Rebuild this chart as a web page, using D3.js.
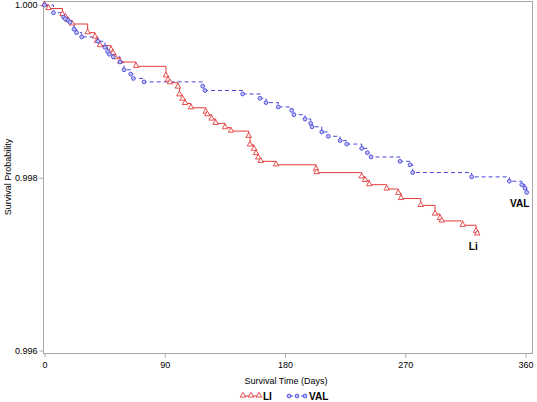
<!DOCTYPE html>
<html>
<head>
<meta charset="utf-8">
<script src="https://cdn.jsdelivr.net/npm/d3@7"></script>
<style>
  html, body { margin: 0; padding: 0; background: #fff; }
  svg { display: block; font-family: "Liberation Sans", Arial, sans-serif; }
</style>
</head>
<body>
<svg id="chart" width="537" height="402"></svg>
<script>
// ---- data ----
const liDays = [0, 3, 13.5, 15.7, 17.6, 20.6, 32.3, 37.8, 39.3, 41.5, 49.8, 51.3, 53.0, 56.7, 68.5, 90.9, 92.4, 93.9, 99.9, 101.0, 103.3, 105.2, 109.6, 120.7, 121.9, 125.1, 128.1, 135.1, 139.6, 152.8, 153.8, 156.8, 158.3, 160.0, 161.8, 173.3, 203.2, 203.7, 237.4, 239.9, 243.1, 256.1, 264.8, 266.8, 281.6, 292.3, 296.0, 297.3, 313.0, 323.0, 323.9];
const liSurv = [1, 0.99996, 0.99989, 0.99986, 0.99982, 0.99978, 0.99968, 0.99963, 0.99958, 0.99953, 0.99948, 0.99944, 0.99939, 0.99934, 0.99929, 0.99918, 0.99913, 0.99910, 0.99905, 0.99896, 0.99891, 0.99886, 0.99881, 0.99876, 0.99873, 0.99868, 0.99863, 0.99858, 0.99854, 0.99848, 0.99838, 0.99833, 0.99828, 0.99823, 0.99819, 0.99815, 0.99810, 0.99806, 0.99801, 0.99797, 0.99792, 0.99787, 0.99782, 0.99776, 0.99768, 0.99758, 0.99753, 0.99750, 0.99745, 0.99738, 0.99735];
const valDays = [0, 6.7, 14.2, 15.6, 17.8, 19.1, 22.1, 24.0, 27.8, 40.0, 45.3, 47.3, 48.5, 51.5, 56.5, 59.5, 64.5, 66.5, 74.5, 118.4, 120.1, 148.3, 161.3, 165.8, 175.0, 185.0, 186.7, 195.0, 199.2, 200.2, 207.5, 212.4, 221.2, 226.2, 237.4, 241.6, 244.4, 266.1, 273.6, 275.6, 319.7, 347.9, 357.2, 359.6, 360.9];
const valSurv = [1, 0.99991, 0.99986, 0.99984, 0.99982, 0.99980, 0.99972, 0.99968, 0.99963, 0.99958, 0.99951, 0.99946, 0.99943, 0.99940, 0.99934, 0.99925, 0.99920, 0.99915, 0.99911, 0.99906, 0.99901, 0.99897, 0.99892, 0.99887, 0.99882, 0.99878, 0.99873, 0.99868, 0.99863, 0.99859, 0.99853, 0.99848, 0.99843, 0.99839, 0.99834, 0.99829, 0.99824, 0.99819, 0.99815, 0.99806, 0.99801, 0.99796, 0.99792, 0.99788, 0.99783];
const xTicks = [0, 90, 180, 270, 360];
const yTicks = [0.996, 0.998, 1.000];
const seriesNames = ["LI", "VAL"];
const endLabels = ["Li", "VAL"];
const xTitle = "Survival Time (Days)";
const yTitle = "Survival Probability";

// ---- layout ----
const svg = d3.select("#chart");
const frame = { left: 43, right: 532, top: 1, bottom: 353 };
const x = d3.scaleLinear().domain([0, 360]).range([44.5, 525.5]);
const y = d3.scaleLinear().domain([0.996, 1.000]).range([350.5, 5]);
const redC = "#e23b3b", blueC = "#4646dc", axisC = "#a8a8a8", blueFill = "#c4c4f4";

// frame
svg.append("rect")
  .attr("x", frame.left + 0.5).attr("y", frame.top + 0.5)
  .attr("width", frame.right - frame.left).attr("height", frame.bottom - frame.top)
  .attr("fill", "none").attr("stroke", axisC).attr("stroke-width", 1);

// axes
const yAxis = svg.append("g").attr("transform", `translate(${frame.left + 0.5},0)`)
  .call(d3.axisLeft(y).tickValues(yTicks).tickFormat(d3.format(".3f")).tickSize(4).tickPadding(2));
const xAxis = svg.append("g").attr("transform", `translate(0,${frame.bottom + 0.5})`)
  .call(d3.axisBottom(x).tickValues(xTicks).tickFormat(d3.format("d")).tickSize(4).tickPadding(4));
[yAxis, xAxis].forEach(g => {
  g.select(".domain").remove();
  g.selectAll(".tick line").attr("stroke", axisC);
  g.selectAll(".tick text").attr("fill", "#000").style("font-size", "9px")
    .style("font-family", '"Liberation Sans", Arial, sans-serif');
});

// titles
svg.append("text").attr("transform", "translate(8,177) rotate(-90)")
  .attr("text-anchor", "middle").attr("dominant-baseline", "central")
  .style("font-size", "9px").text(yTitle);
svg.append("text").attr("x", 286).attr("y", 381)
  .attr("text-anchor", "middle").attr("dominant-baseline", "central")
  .style("font-size", "9px").text(xTitle);

// curves
const step = d3.line().x(d => x(d[0])).y(d => y(d[1])).curve(d3.curveStepAfter);
const liPts = liDays.map((d, i) => [d, liSurv[i]]);
const valPts = valDays.map((d, i) => [d, valSurv[i]]);

svg.append("path").datum(valPts).attr("d", step)
  .attr("fill", "none").attr("stroke", blueC).attr("stroke-width", 1)
  .attr("stroke-dasharray", "4,3");
svg.append("path").datum(liPts).attr("d", step)
  .attr("fill", "none").attr("stroke", redC).attr("stroke-width", 1);

const tri = d3.symbol().type(d3.symbolTriangle).size(13);
svg.append("g").selectAll("path").data(liPts).join("path")
  .attr("d", tri).attr("transform", d => `translate(${x(d[0])},${y(d[1]) - 0.5})`)
  .attr("fill", "#fff").attr("stroke", redC).attr("stroke-width", 0.9);
svg.append("g").selectAll("circle").data(valPts).join("circle")
  .attr("cx", d => x(d[0])).attr("cy", d => y(d[1])).attr("r", 1.9)
  .attr("fill", blueFill).attr("stroke", blueC).attr("stroke-width", 0.9);

// end labels
svg.append("text").attr("x", x(liDays[liDays.length - 1]) - 4).attr("y", 246)
  .attr("text-anchor", "middle").attr("dominant-baseline", "central")
  .style("font-size", "10px").style("font-weight", "bold").text(endLabels[0]);
svg.append("text").attr("x", x(valDays[valDays.length - 1]) - 7).attr("y", 203)
  .attr("text-anchor", "middle").attr("dominant-baseline", "central")
  .style("font-size", "10px").style("font-weight", "bold").text(endLabels[1]);

// legend
const leg = svg.append("g").attr("transform", "translate(0,396)");
const legItems = [
  { name: seriesNames[0], color: redC, x0: 243, dash: null, sym: "tri" },
  { name: seriesNames[1], color: blueC, x0: 289, dash: "4,2", sym: "circ" }
];
legItems.forEach(it => {
  const w = 16;
  leg.append("line").attr("x1", it.x0).attr("x2", it.x0 + w).attr("y1", 0).attr("y2", 0)
    .attr("stroke", it.color).attr("stroke-width", 1).attr("stroke-dasharray", it.dash);
  [0, w / 2, w].forEach(dx => {
    if (it.sym === "tri") {
      leg.append("path").attr("d", tri).attr("transform", `translate(${it.x0 + dx},-0.5)`)
        .attr("fill", "#fff").attr("stroke", it.color).attr("stroke-width", 0.9);
    } else {
      leg.append("circle").attr("cx", it.x0 + dx).attr("cy", 0).attr("r", 1.9)
        .attr("fill", blueFill).attr("stroke", it.color).attr("stroke-width", 0.9);
    }
  });
  leg.append("text").attr("x", it.x0 + w + 4).attr("y", 0)
    .attr("dominant-baseline", "central")
    .style("font-size", "10px").style("font-weight", "bold").text(it.name);
});
</script>
</body>
</html>
